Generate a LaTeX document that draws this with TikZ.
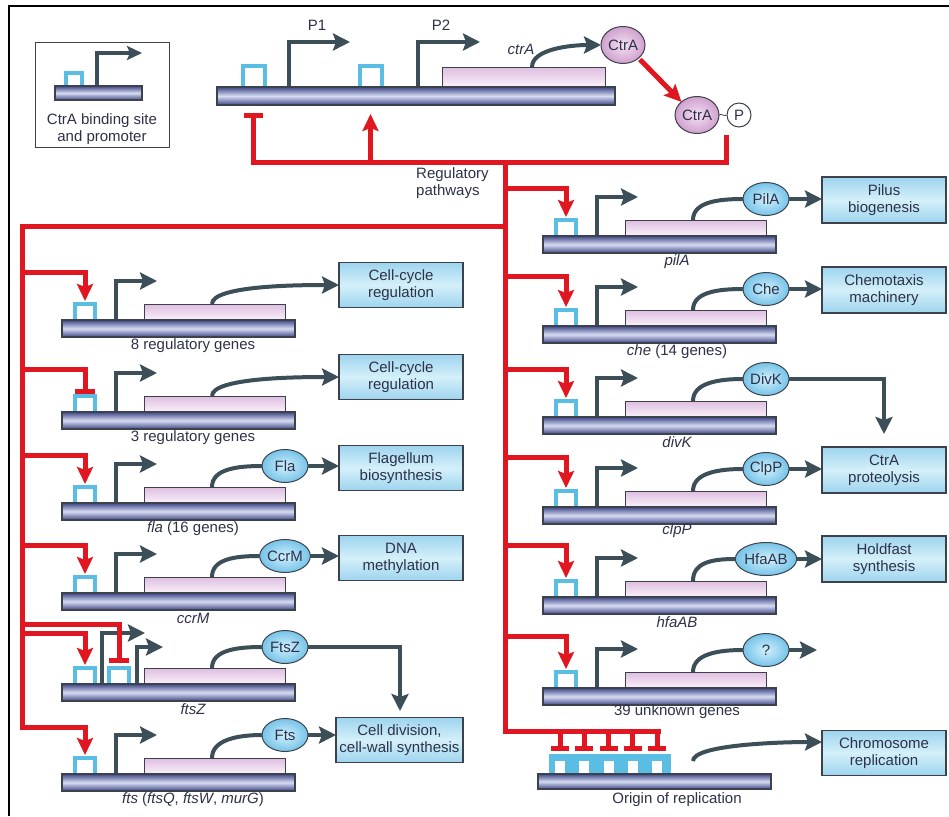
\documentclass[tikz,border=0pt]{standalone}
\usepackage{fontspec}
\setmainfont{Liberation Sans}
\usetikzlibrary{arrows.meta,shapes.geometric,calc}
\definecolor{dnaD}{RGB}{62,72,135}
\definecolor{dnaL}{RGB}{215,220,242}
\definecolor{prom}{RGB}{60,78,88}
\definecolor{bsc}{RGB}{90,190,228}
\definecolor{rl}{RGB}{224,22,32}
\definecolor{txt}{RGB}{45,50,72}
\definecolor{genD}{RGB}{222,190,224}
\definecolor{genL}{RGB}{250,240,250}
\definecolor{boxD}{RGB}{158,212,238}
\definecolor{boxL}{RGB}{212,240,250}
\definecolor{protD}{RGB}{118,195,232}
\definecolor{protL}{RGB}{210,240,252}
\definecolor{ctraD}{RGB}{208,160,206}
\definecolor{ctraL}{RGB}{245,225,244}
\definecolor{outl}{RGB}{60,65,75}
\tikzset{
  dna/.style={draw=outl, line width=1.2pt, top color=dnaD, bottom color=dnaD, middle color=dnaL, minimum height=17pt, inner sep=0pt, outer sep=0pt, anchor=north west},
  gene/.style={draw=outl, line width=1pt, top color=genD, bottom color=genL, minimum height=16pt, inner sep=0pt, outer sep=0pt, anchor=south west},
  bsite/.style={draw=bsc, line width=4pt},
  promo/.style={draw=prom, line width=4pt},
  ptip/.style={-{Stealth[length=17pt,width=17pt,inset=3pt]}},
  redl/.style={draw=rl, line width=5pt},
  rtip/.style={-{Stealth[length=17pt,width=16pt,inset=3pt]}},
  prot/.style={ellipse, draw=outl, line width=1pt, inner color=protL, outer color=protD, minimum width=46pt, minimum height=33pt, inner sep=0pt, outer sep=0pt, font=\fontsize{15}{17}\selectfont, text=txt},
  ctrae/.style={ellipse, draw=outl, line width=1pt, inner color=ctraL, outer color=ctraD, minimum width=44pt, minimum height=37pt, inner sep=0pt, outer sep=0pt, font=\fontsize{15}{17}\selectfont, text=txt},
  fbox/.style={rectangle, draw=outl, line width=1.3pt, top color=boxD, bottom color=boxD, middle color=boxL, minimum width=124pt, minimum height=45pt, inner sep=0pt, outer sep=0pt, align=center, font=\fontsize{15}{17}\selectfont, text=txt},
  lbl/.style={font=\fontsize{15}{17}\selectfont, text=txt, inner sep=0pt},
  ilbl/.style={font=\fontsize{15}{17}\selectfont\itshape, text=txt, inner sep=0pt},
}
\newcommand{\generow}[3]{%
  \pgfmathsetmacro{\rowL}{#2}%
  \pgfmathsetmacro{\rowT}{#3}%
  \draw[bsite] (\rowL+13,\rowT) -- (\rowL+13,\rowT-16) -- (\rowL+33,\rowT-16) -- (\rowL+33,\rowT);
  \draw[promo,ptip] (\rowL+54,\rowT) -- (\rowL+54,\rowT-39) -- (\rowL+95,\rowT-39);
  \node[gene, minimum width=141pt] (#1gene) at (\rowL+82,\rowT) {};
  \node[dna, minimum width=233pt] (#1dna) at (\rowL,\rowT) {};
  \coordinate (#1bs) at (\rowL+23,\rowT-19);
  \coordinate (#1cs) at (\rowL+150,\rowT-16);
}
\begin{document}
\begin{tikzpicture}[x=1pt,y=-1pt]
\useasboundingbox (0,0) rectangle (949,816);
\fill[white] (0,0) rectangle (949,816);
\draw[black, line width=2pt] (9,816) -- (9,6) -- (949,6);

% legend
\node[draw=outl, line width=1.3pt, minimum width=134pt, minimum height=105pt, inner sep=0pt, anchor=north west] (legend) at (35,42) {};
\draw[bsite] (65.5,86) -- (65.5,73) -- (81.5,73) -- (81.5,86);
\draw[promo,-{Stealth[length=15pt,width=14pt,inset=3pt]}] (97,86) -- (97,53) -- (142,53);
\node[dna, minimum width=87pt, minimum height=14pt] (legdna) at (55,86) {};
\node[lbl, align=center] (legtxt) at (102,129) {CtrA binding site\\and promoter};

% ctrA operon
\draw[bsite] (243,87) -- (243,66) -- (265,66) -- (265,87);
\draw[bsite] (359.5,87) -- (359.5,66) -- (381.5,66) -- (381.5,87);
\draw[promo,ptip] (289,87) -- (289,42) -- (350,42);
\draw[promo,ptip] (418,87) -- (418,42) -- (480,42);
\node[lbl] (p1) at (317,25) {P1};
\node[lbl] (p2) at (441,25) {P2};
\node[gene, minimum width=163pt, minimum height=20pt] (ctragene) at (442,87) {};
\node[dna, minimum width=398pt, minimum height=18pt] (ctradna) at (217,87) {};
\node[ilbl] (ctralbl) at (521,49) {ctrA};
\node[ctrae] (ctra) at (623,45) {CtrA};
\node[ctrae] (ctrap) at (697,115) {CtrA};
\node[circle, draw=outl, line width=1pt, fill=white, minimum size=24pt, inner sep=0pt, font=\fontsize{15}{17}\selectfont, text=txt] (pp) at (739,115) {P};
\draw[outl, line width=0.8pt] (ctrap.east) .. controls +(2,-2) and +(-2,2) .. (pp.west);
\coordinate (ctrcs) at (532,67);
\draw[promo,ptip] (ctrcs) .. controls +(0,-18) and +(-30,0) .. (ctra.west);
\draw[redl,rtip,shorten <=2pt] (ctra.south east) -- (ctrap.north west);

% red network, top
\coordinate (cpstart) at (726,135);
\draw[redl] (cpstart) -- (726,162) -- (253.5,162) -- (253.5,116);
\draw[redl] (244,115) -- (263,115);
\draw[redl,rtip] (370.5,162) -- (370.5,114);
\node[lbl, align=left, anchor=west] (regp) at (416,183) {Regulatory\\pathways};
\draw[redl] (505,162) -- (505,731) -- (661,731);

% ---------- left column ----------
\generow{ra}{62}{320}
\node[fbox] (rabox) at (401,285) {Cell-cycle\\regulation};
\draw[promo,ptip] (racs) .. controls +(0,-18) and +(-45,0) .. (rabox.west);
\node[lbl] (ralbl) at (193,346) {8 regulatory genes};
\draw[redl,rtip] (22,272) -| (rabs);

\generow{rb}{62}{412}
\node[fbox] (rbbox) at (401,377) {Cell-cycle\\regulation};
\draw[promo,ptip] (rbcs) .. controls +(0,-18) and +(-45,0) .. (rbbox.west);
\node[lbl] (rblbl) at (193,438) {3 regulatory genes};
\draw[redl] (22,369) -| (85,392);
\draw[redl] (75,391.5) -- (95,391.5);

\generow{fla}{62}{503}
\node[prot] (flaprot) at (285,466) {Fla};
\node[fbox] (flabox) at (401,468) {Flagellum\\biosynthesis};
\draw[promo] (flacs) .. controls +(0,-18) and +(-25,0) .. (flaprot.west);
\draw[promo,ptip] (flaprot.east) -- (flaprot.east -| flabox.west);
\node[lbl] (flalbl) at (193,529) {\textit{fla} (16 genes)};
\draw[redl,rtip] (22,455) -| (flabs);

\generow{ccr}{62}{593}
\node[prot] (ccrprot) at (285,556) {CcrM};
\node[fbox] (ccrbox) at (401,558) {DNA\\methylation};
\draw[promo] (ccrcs) .. controls +(0,-18) and +(-25,0) .. (ccrprot.west);
\draw[promo,ptip] (ccrprot.east) -- (ccrprot.east -| ccrbox.west);
\node[ilbl] (ccrlbl) at (193,618) {ccrM};
\draw[redl,rtip] (22,545) -| (ccrbs);

% ftsZ row
\draw[bsite] (75,684) -- (75,668) -- (95,668) -- (95,684);
\draw[bsite] (109,684) -- (109,668) -- (129,668) -- (129,684);
\draw[promo,ptip] (102,684) -- (102,633) -- (145,633);
\draw[promo,ptip] (137,684) -- (137,647) -- (163,647);
\node[gene, minimum width=141pt] (fzgene) at (144,684) {};
\node[dna, minimum width=233pt] (fzdna) at (62,684) {};
\node[prot] (fzprot) at (285,647) {FtsZ};
\coordinate (fzcs) at (212,668);
\draw[promo] (fzcs) .. controls +(0,-18) and +(-25,0) .. (fzprot.west);
\node[ilbl] (fzlbl) at (193,709) {ftsZ};
\coordinate (fzbs) at (85,665);
\draw[redl,rtip] (22,633) -| (fzbs);
\draw[redl] (22,624) -| (119,660);
\draw[redl] (109,660.5) -- (129,660.5);

% fts row
\generow{fts}{62}{774}
\node[prot] (ftsprot) at (285,735) {Fts};
\node[fbox, minimum width=127pt] (ftsbox) at (399.5,740) {Cell division,\\cell-wall synthesis};
\draw[promo] (ftscs) .. controls +(0,-18) and +(-25,0) .. (ftsprot.west);
\draw[promo,ptip] (ftsprot.east) -- (ftsprot.east -| ftsbox.west);
\node[lbl] (ftslbl) at (193,800) {\textit{fts} (\textit{ftsQ}, \textit{ftsW}, \textit{murG})};
\coordinate (fzend) at (400,711);
\draw[promo,ptip] (fzprot.east) -| (fzend);

% left main red line
\draw[redl,rtip] (505,226) -- (22,226) -- (22,727) -| (ftsbs);

% ---------- right column ----------
\generow{pil}{543}{236}
\node[prot] (pilprot) at (766,199) {PilA};
\node[fbox, minimum height=46pt] (pilbox) at (884,200) {Pilus\\biogenesis};
\draw[promo] (pilcs) .. controls +(0,-18) and +(-25,0) .. (pilprot.west);
\draw[promo,ptip] (pilprot.east) -- (pilprot.east -| pilbox.west);
\node[ilbl] (pillbl) at (677,262) {pilA};
\draw[redl,rtip] (505,188) -| (pilbs);

\generow{che}{543}{326}
\node[prot] (cheprot) at (766,289) {Che};
\node[fbox, minimum height=46pt] (chebox) at (884,290) {Chemotaxis\\machinery};
\draw[promo] (checs) .. controls +(0,-18) and +(-25,0) .. (cheprot.west);
\draw[promo,ptip] (cheprot.east) -- (cheprot.east -| chebox.west);
\node[lbl] (chelbl) at (677,352) {\textit{che} (14 genes)};
\draw[redl,rtip] (505,276) -| (chebs);

\generow{div}{543}{417}
\node[prot] (divprot) at (766,379) {DivK};
\node[ilbl] (divlbl) at (677,442) {divK};
\draw[promo] (divcs) .. controls +(0,-18) and +(-25,0) .. (divprot.west);
\draw[redl,rtip] (505,369) -| (divbs);

\generow{clp}{543}{507}
\node[prot] (clpprot) at (766,469) {ClpP};
\node[fbox, minimum height=46pt] (clpbox) at (884,470) {CtrA\\proteolysis};
\draw[promo] (clpcs) .. controls +(0,-18) and +(-25,0) .. (clpprot.west);
\draw[promo,ptip] (clpprot.east) -- (clpprot.east -| clpbox.west);
\node[ilbl] (clplbl) at (677,531) {clpP};
\draw[redl,rtip] (505,457) -| (clpbs);
\coordinate (divend) at (884,434);
\draw[promo,ptip] (divprot.east) -| (divend);

\generow{hfa}{543}{597}
\node[prot] (hfaprot) at (766,559) {HfaAB};
\node[fbox, minimum height=46pt] (hfabox) at (884,559) {Holdfast\\synthesis};
\draw[promo] (hfacs) .. controls +(0,-18) and +(-25,0) .. (hfaprot.west);
\draw[promo,ptip] (hfaprot.east) -- (hfaprot.east -| hfabox.west);
\node[ilbl] (hfalbl) at (677,622) {hfaAB};
\draw[redl,rtip] (505,545) -| (hfabs);

\generow{unk}{543}{688}
\node[prot] (unkprot) at (766,650) {?};
\coordinate (unkend) at (817,650);
\draw[promo] (unkcs) .. controls +(0,-18) and +(-25,0) .. (unkprot.west);
\draw[promo,ptip] (unkprot.east) -- (unkend);
\node[lbl] (unklbl) at (677,712) {39 unknown genes};
\draw[redl,rtip] (505,636) -| (unkbs);

% origin of replication
\fill[bsc] (549,754) rectangle (671,774);
\foreach \i in {0,...,4} {
  \fill[white] ({555+24.3*\i},761) rectangle ({565+24.3*\i},774);
  \draw[redl] ({560+24.3*\i},731) -- ({560+24.3*\i},748);
  \draw[redl] ({551+24.3*\i},748.5) -- ({569+24.3*\i},748.5);
}
\node[dna, minimum width=233pt, minimum height=15pt] (oridna) at (538,774) {};
\node[lbl] (orilbl) at (677,800) {Origin of replication};
\node[fbox] (chrbox) at (884,753) {Chromosome\\replication};
\coordinate (orics) at (693,761);
\coordinate (chrend) at ($(chrbox.west)+(0,-11)$);
\draw[promo,ptip] (orics) .. controls +(0,-16) and +(-45,0) .. (chrend);
\end{tikzpicture}
\end{document}
